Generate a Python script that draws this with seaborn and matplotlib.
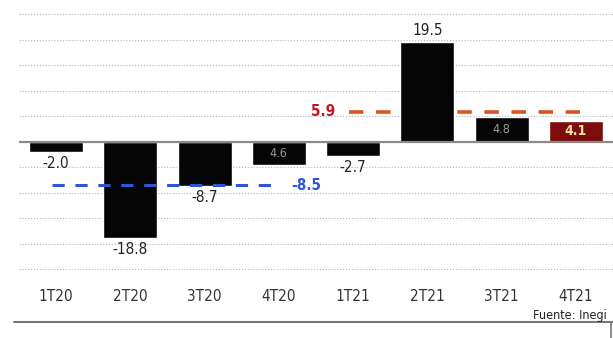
import matplotlib
matplotlib.use("Agg")
import matplotlib.pyplot as plt
import seaborn as sns
import pandas as pd
from matplotlib.lines import Line2D

sns.set_style("white")
plt.rcParams['font.family'] = ['DejaVu Sans']
plt.rcParams['font.stretch'] = 'condensed'

quarters = ["1T20", "2T20", "3T20", "4T20", "1T21", "2T21", "3T21", "4T21"]
values = [-2.0, -18.8, -8.7, -4.6, -2.7, 19.5, 4.8, 4.1]
labels = ["-2.0", "-18.8", "-8.7", "4.6", "-2.7", "19.5", "4.8", "4.1"]
avg_2020 = -8.5
avg_2021 = 5.9
source = "Fuente: Inegi"

bar_colors = ["#050505"] * 7 + ["#7d0c0c"]

df = pd.DataFrame({"q": quarters, "v": values})

fig = plt.figure(figsize=(6.13, 3.38), dpi=100)
ax = fig.add_axes([19 / 613, 1 - 275 / 338, 1 - 19 / 613, 275 / 338])

# grid
for g in range(-25, 30, 5):
    if g == 0:
        continue
    ax.axhline(g, color="#b5b5b5", lw=0.8, ls=(0, (1, 1.6)), zorder=0)

sns.barplot(data=df, x="q", y="v", hue="q", palette=bar_colors, legend=False,
            width=0.73, saturation=1, ax=ax, zorder=2)

ax.axhline(0, color="#8a8a8a", lw=1.6, zorder=3)

# average lines
ax.plot([-0.05, 3.0], [avg_2020, avg_2020], color="#2f55d4", lw=2.2,
        ls=(0, (4, 3.5)), zorder=4)
ax.text(3.37, avg_2020, f"{avg_2020}", color="#2f55d4", fontsize=11,
        fontweight="bold", ha="center", va="center", zorder=5)
ax.plot([3.95, 7.05], [avg_2021, avg_2021], color="#d9541c", lw=2.6,
        ls=(0, (4, 3.5)), zorder=1.5)
ax.text(3.76, avg_2021, f"{avg_2021}", color="#c4161c", fontsize=11,
        fontweight="bold", ha="right", va="center", zorder=5)

# value labels
for i, (v, lab) in enumerate(zip(values, labels)):
    if i in (3, 6):
        ax.text(i, v / 2, lab, color="#9a9a9a", fontsize=9, ha="center",
                va="center", zorder=5)
    elif i == 7:
        ax.text(i, v / 2, lab, color="#f3dfa0", fontsize=10, fontweight="bold",
                ha="center", va="center", zorder=5)
    elif v < 0:
        ax.text(i, v - 0.8, lab, color="#222222", fontsize=11, ha="center",
                va="top", zorder=5)
    else:
        ax.text(i, v + 0.9, lab, color="#222222", fontsize=11, ha="center",
                va="bottom", zorder=5)

ax.set_ylim(-26.1, 27.8)
ax.set_xlim(-0.5, 7.5)
ax.set_xlabel("")
ax.set_ylabel("")
ax.set_yticks([])
ax.tick_params(axis="x", length=0, pad=10, labelsize=11, labelcolor="#333333")
for s in ax.spines.values():
    s.set_visible(False)

fig.text(607 / 613, 1 - 315 / 338, source, ha="right", va="center",
         fontsize=9, color="#222222")
fig.add_artist(Line2D([14 / 613, 1], [1 - 322 / 338, 1 - 322 / 338],
                      color="#777777", lw=1.5))
fig.add_artist(Line2D([611 / 613, 611 / 613], [0, 1 - 322 / 338],
                      color="#777777", lw=1.2))

fig.savefig("out.png", dpi=100)
